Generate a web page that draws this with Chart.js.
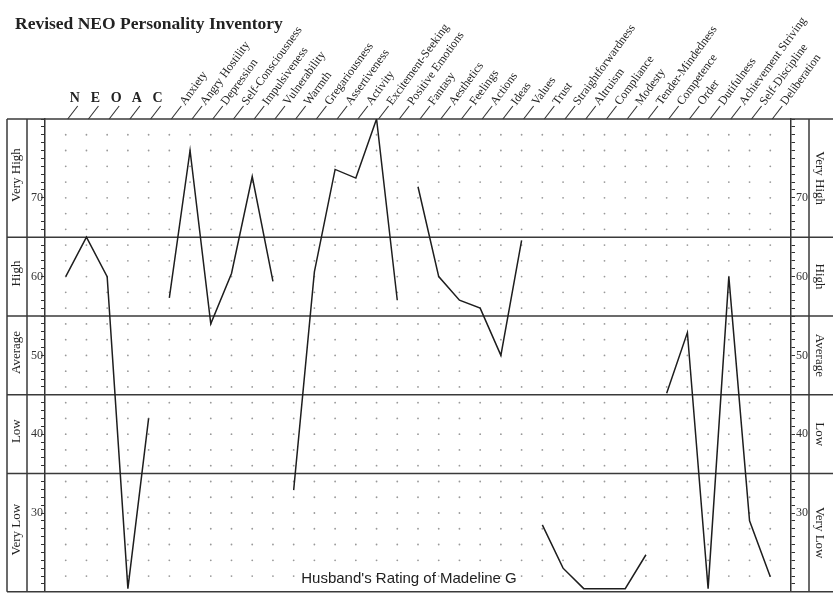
<!DOCTYPE html>
<html>
<head>
<meta charset="utf-8">
<script src="https://cdn.jsdelivr.net/npm/chart.js@4.4.0/dist/chart.umd.min.js"></script>
<style>
  html, body { margin: 0; padding: 0; background: #fff; }
  #wrap { width: 833px; height: 600px; }
</style>
</head>
<body>
<div id="wrap"><canvas id="neoChart"></canvas></div>
<script>
// categories along the top
const domains = ['N', 'E', 'O', 'A', 'C'];
const facets = [
    'Anxiety', 'Angry Hostility', 'Depression', 'Self-Consciousness', 'Impulsiveness', 'Vulnerability',
    'Warmth', 'Gregariousness', 'Assertiveness', 'Activity', 'Excitement-Seeking', 'Positive Emotions',
    'Fantasy', 'Aesthetics', 'Feelings', 'Actions', 'Ideas', 'Values',
    'Trust', 'Straightforwardness', 'Altruism', 'Compliance', 'Modesty', 'Tender-Mindedness',
    'Competence', 'Order', 'Dutifulness', 'Achievement Striving', 'Self-Discipline', 'Deliberation'
];

// T-scores
const domainScores = [60, 65, 60, 20.4, 42];
const neuroticismScores = [57.3, 76, 54, 60.4, 72.7, 59.4];
const extraversionScores = [32.9, 60.6, 73.6, 72.5, 80, 57];
const opennessScores = [71.4, 60, 57, 56, 50, 64.6];
const agreeablenessScores = [28.5, 23, 20.4, 20.4, 20.4, 24.7];
const conscientiousnessScores = [45.2, 52.9, 20.4, 60, 29, 21.9];

// axis and bands
const bandEdges = [80, 65, 55, 45, 35, 20];
const bandLabels = ['Very High', 'High', 'Average', 'Low', 'Very Low'];
const tickLabels = [30, 40, 50, 60, 70];
const dotLevels = [22, 24, 26, 28, 30, 32, 34, 36, 38, 40, 42, 44, 46, 48, 50,
    52, 54, 56, 58, 60, 62, 64, 66, 68, 70, 72, 74, 76, 78];

const allLabels = domains.concat(facets);

function toPoints(values, start) {
    return values.map((v, i) => ({ x: start + i, y: v }));
}

const dots = [];
allLabels.forEach((_, i) => dotLevels.forEach(v => dots.push({ x: i, y: v })));

const lineStyle = {
    showLine: true,
    borderColor: '#1e1e1e',
    borderWidth: 1.5,
    pointRadius: 0,
    tension: 0,
    order: 1
};

const neoFrame = {
    id: 'neoFrame',
    beforeDatasetsDraw(chart) {
        const { ctx, chartArea, scales } = chart;
        const y = scales.y;
        const top = chartArea.top, bottom = chartArea.bottom;
        ctx.save();
        ctx.strokeStyle = '#3a3a3a';
        ctx.lineWidth = 1.5;
        bandEdges.forEach(v => {
            const py = y.getPixelForValue(v);
            ctx.beginPath();
            ctx.moveTo(7, py);
            ctx.lineTo(833, py);
            ctx.stroke();
        });
        [7, 27, 809].forEach(px => {
            ctx.beginPath();
            ctx.moveTo(px, top);
            ctx.lineTo(px, bottom);
            ctx.stroke();
        });
        ctx.restore();
    },
    afterDraw(chart) {
        const { ctx, chartArea, scales } = chart;
        const x = scales.x, y = scales.y;
        const top = chartArea.top;
        ctx.save();
        ctx.fillStyle = '#222';
        ctx.strokeStyle = '#333';

        // title
        ctx.font = 'bold 17.5px "Liberation Serif"';
        ctx.textAlign = 'left';
        ctx.textBaseline = 'alphabetic';
        ctx.fillText('Revised NEO Personality Inventory', 15, 29);

        // slashes and column labels
        allLabels.forEach((label, i) => {
            const px = x.getPixelForValue(i);
            ctx.lineWidth = 1.1;
            ctx.beginPath();
            ctx.moveTo(px + 2, top);
            ctx.lineTo(px + 12, top - 13);
            ctx.stroke();
            if (i < domains.length) {
                ctx.font = 'bold 14px "Liberation Serif"';
                ctx.textAlign = 'center';
                ctx.textBaseline = 'alphabetic';
                ctx.fillText(label, px + 9, top - 17);
            } else {
                ctx.save();
                ctx.translate(px + 13, top - 15);
                ctx.rotate(-54 * Math.PI / 180);
                ctx.font = '12px "Liberation Serif"';
                ctx.textAlign = 'left';
                ctx.textBaseline = 'middle';
                ctx.fillText(label, 0, 0);
                ctx.restore();
            }
        });

        // band names on both sides
        ctx.font = '13px "Liberation Serif"';
        ctx.textAlign = 'center';
        ctx.textBaseline = 'middle';
        bandLabels.forEach((label, i) => {
            const cy = (y.getPixelForValue(bandEdges[i]) + y.getPixelForValue(bandEdges[i + 1])) / 2;
            ctx.save();
            ctx.translate(17, cy - 3);
            ctx.rotate(-Math.PI / 2);
            ctx.fillText(label, 0, 0);
            ctx.restore();
            ctx.save();
            ctx.translate(819, cy);
            ctx.rotate(Math.PI / 2);
            ctx.fillText(label, 0, 0);
            ctx.restore();
        });

        // caption
        ctx.font = '15px "Liberation Sans"';
        ctx.textAlign = 'center';
        ctx.textBaseline = 'alphabetic';
        ctx.fillText("Husband's Rating of Madeline G", 409, 583);
        ctx.restore();
    }
};

const yAxis = (position, pad) => ({
    type: 'linear',
    position: position,
    min: 20,
    max: 80,
    afterFit: s => { s.width = 38; },
    ticks: {
        stepSize: 1,
        maxTicksLimit: 100,
        autoSkip: false,
        padding: pad,
        color: '#333',
        font: { family: 'Liberation Serif', size: 12 },
        callback: v => tickLabels.includes(v) ? String(v) : ''
    },
    grid: { drawOnChartArea: false, drawTicks: true, tickLength: 4, color: '#333' },
    border: { display: true, color: '#333', width: 1.5 }
});

const ctx = document.getElementById('neoChart').getContext('2d');
new Chart(ctx, {
    type: 'scatter',
    data: {
        datasets: [
            Object.assign({ label: 'Domains', data: toPoints(domainScores, 0) }, lineStyle),
            Object.assign({ label: 'Neuroticism', data: toPoints(neuroticismScores, 5) }, lineStyle),
            Object.assign({ label: 'Extraversion', data: toPoints(extraversionScores, 11) }, lineStyle),
            Object.assign({ label: 'Openness', data: toPoints(opennessScores, 17) }, lineStyle),
            Object.assign({ label: 'Agreeableness', data: toPoints(agreeablenessScores, 23) }, lineStyle),
            Object.assign({ label: 'Conscientiousness', data: toPoints(conscientiousnessScores, 29) }, lineStyle),
            {
                label: 'grid',
                data: dots,
                pointRadius: 0.9,
                pointBackgroundColor: '#999',
                pointBorderWidth: 0,
                order: 10
            }
        ]
    },
    options: {
        responsive: true,
        maintainAspectRatio: false,
        animation: false,
        layout: { padding: { top: 119, bottom: 8, left: 7, right: 4 } },
        plugins: {
            legend: { display: false },
            tooltip: { enabled: false },
            title: { display: false }
        },
        scales: {
            x: { type: 'linear', min: -1, max: 35, display: false },
            y: yAxis('left', -2),
            y2: yAxis('right', 1)
        }
    },
    plugins: [neoFrame]
});
</script>
</body>
</html>
